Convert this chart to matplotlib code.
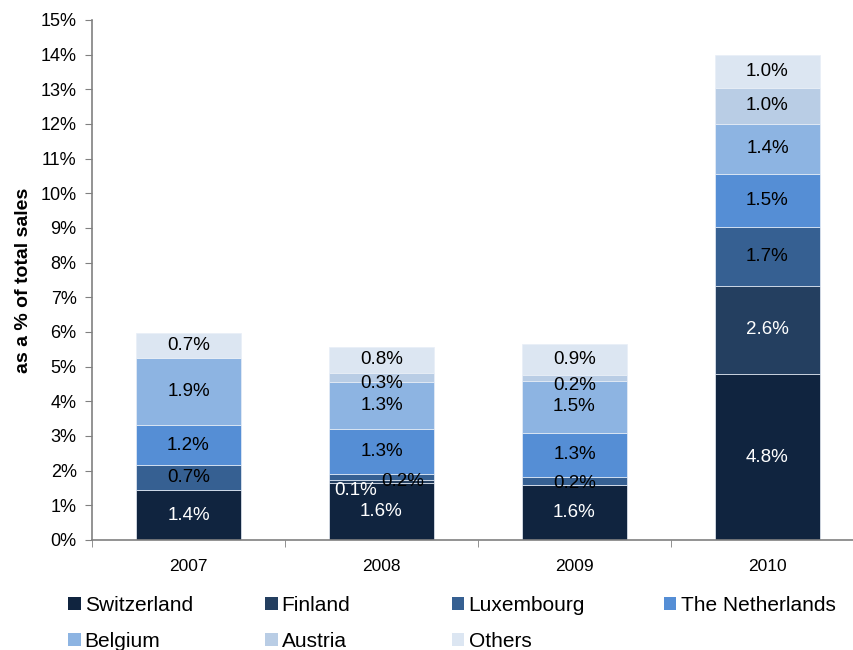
import numpy as np
import matplotlib
matplotlib.use("Agg")
import matplotlib.pyplot as plt
from matplotlib.patches import Patch

plt.rcParams['font.family'] = ['Liberation Sans', 'DejaVu Sans']

years = ['2007', '2008', '2009', '2010']
countries = ['Switzerland', 'Finland', 'Luxembourg', 'The Netherlands',
             'Belgium', 'Austria', 'Others']

# share of total sales (%), per country, per year
switzerland = [1.44, 1.64, 1.59, 4.78]
finland = [0.0, 0.08, 0.0, 2.56]
luxembourg = [0.71, 0.18, 0.24, 1.70]
netherlands = [1.16, 1.31, 1.26, 1.53]
belgium = [1.93, 1.34, 1.50, 1.44]
austria = [0.0, 0.26, 0.16, 1.03]
others = [0.74, 0.77, 0.91, 0.96]

series = [switzerland, finland, luxembourg, netherlands, belgium, austria, others]
colors = ['#10243F', '#243F60', '#366092', '#558ED5', '#8DB4E2', '#B9CDE5', '#DCE6F2']
text_colors = ['white', 'white', 'black', 'black', 'black', 'black', 'black']

# manual nudges for crowded labels (pixels)
nudges = {
    (1, 1): (-26, -9),
    (1, 2): (21, -4),
    (1, 5): (0, -6),
    (2, 5): (0, -7),
    (2, 2): (0, -3),
}

fig = plt.figure(figsize=(8.54, 6.5), dpi=100)
ax = fig.add_axes([92 / 854, 110 / 650, 772 / 854, 520 / 650])

x = np.arange(len(years))
bottom = np.zeros(len(years))
for i, vals in enumerate(series):
    vals = np.array(vals)
    ax.bar(x, vals, width=0.545, bottom=bottom, color=colors[i],
           edgecolor='#e8eef7', linewidth=0.5, zorder=2)
    for j, v in enumerate(vals):
        if v <= 0:
            continue
        dx, dy = nudges.get((j, i), (0, 0))
        ax.annotate(f"{v:.1f}%", (x[j], bottom[j] + v / 2),
                    xytext=(dx, dy), textcoords='offset pixels',
                    ha='center', va='center', fontsize=13.5,
                    color=text_colors[i], zorder=3)
    bottom += vals

ax.set_xlim(-0.5, len(years) - 0.5)
ax.set_ylim(0, 15)
ax.set_yticks(np.arange(0, 16, 1))
ax.set_yticklabels([f"{t}%" for t in range(16)], fontsize=13)
ax.set_xticks(x)
ax.set_xticklabels(years, fontsize=12.5)
ax.set_xticks(np.arange(-0.5, len(years), 1), minor=True)
ax.tick_params(axis='x', which='major', length=0, pad=14)
ax.tick_params(axis='x', which='minor', length=5, color='#808080', direction='out')
ax.tick_params(axis='y', length=5, color='#808080', direction='out', pad=6)

for s in ['top', 'right']:
    ax.spines[s].set_visible(False)
for s in ['left', 'bottom']:
    ax.spines[s].set_color('#808080')
    ax.spines[s].set_linewidth(1.2)

ax.set_ylabel('as a % of total sales', fontsize=14, fontweight='bold', labelpad=6)

# legend: four columns of equal-ish width, two rows
handles = [Patch(facecolor=c, edgecolor='none') for c in colors]
columns = [[0, 4], [1, 5], [2, 6], [3]]
col_x = [68, 265, 452, 664]
for cols, cx in zip(columns, col_x):
    fig.legend([handles[k] for k in cols], [countries[k] for k in cols],
               loc='upper left', bbox_to_anchor=(cx / 854, 1 - 596 / 650),
               frameon=False, fontsize=15, handlelength=0.6, handleheight=0.6,
               handletextpad=0.2, labelspacing=0.8,
               borderpad=0, borderaxespad=0)

fig.savefig('out.png', dpi=100)
